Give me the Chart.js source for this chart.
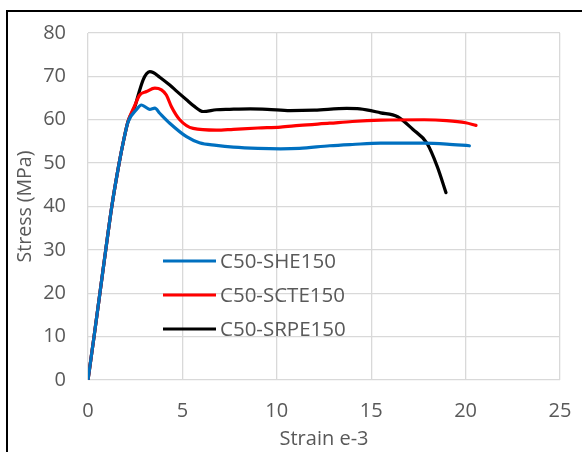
<!DOCTYPE html>
<html><head><meta charset="utf-8">
<script src="https://cdn.jsdelivr.net/npm/chart.js@4/dist/chart.umd.min.js"></script>
<style>
html,body{margin:0;padding:0;background:#fff;overflow:hidden}
#frame{position:absolute;left:6px;top:10px;width:600px;height:500px;border:2px solid #000;box-sizing:border-box}
#wrap{position:absolute;left:0;top:0;width:582px;height:452px}
</style></head>
<body>
<div id="frame"></div>
<div id="wrap"><canvas id="c" width="582" height="452"></canvas></div>
<script>
const seriesNames = ["C50-SHE150", "C50-SCTE150", "C50-SRPE150"];
const seriesColors = ["#0070C0", "#FF0000", "#000000"];
const sheX = [0,0.32,0.63,0.94,1.26,1.65,1.9,2.12,2.56,2.83,3.05,3.27,3.54,3.8,4.33,5.22,5.9,6.8,7.7,9.0,10.2,11.2,12.8,14.0,15.5,17.8,19.0,20.2];
const sheY = [0,10,20,30,40,50,55.5,59.5,62.3,63.4,62.9,62.4,62.7,61.5,59.2,56.1,54.7,54.1,53.7,53.4,53.3,53.4,54,54.3,54.6,54.6,54.4,54.0];
const scteX = [0,0.32,0.63,0.94,1.26,1.65,1.9,2.12,2.45,2.74,3.1,3.54,3.89,4.15,4.42,4.86,5.57,6.8,7.7,9.0,10.2,11.2,12.8,14.0,15.5,17.8,19.0,20.0,20.55];
const scteY = [0,10,20,30,40,50,55.5,59.6,63,65.7,66.5,67.3,66.9,65.7,63,60,58,57.6,57.8,58.1,58.3,58.7,59.2,59.6,59.9,60,59.8,59.3,58.7];
const srpeX = [0,0.32,0.63,0.94,1.26,1.65,1.9,2.12,2.48,2.7,2.92,3.1,3.27,3.45,3.8,4.33,4.69,5.22,5.6,6.1,6.8,7.5,8.6,9.5,10.7,12.0,13.7,14.4,15.5,16.4,17.2,17.95,18.5,18.96];
const srpeY = [0,10,20,30,40,50,55.5,59.6,63,66.3,69.2,70.6,71.1,70.9,69.8,68,66.6,64.6,63.2,61.9,62.3,62.4,62.5,62.4,62.1,62.2,62.6,62.5,61.6,60.7,57.8,54.6,49.2,43.2];
const xTicks = [0,5,10,15,20,25];
const yTicks = [0,10,20,30,40,50,60,70,80];

const toPts = (xs, ys) => xs.map((x, i) => ({x: x, y: ys[i]}));
const allX = [sheX, scteX, srpeX], allY = [sheY, scteY, srpeY];
const FONT = "'Open Sans', sans-serif";
const GREY = "#595959";

const legendPlugin = {
  id: 'inlegend',
  afterDraw(chart) {
    const ctx = chart.ctx;
    ctx.save();
    chart.data.datasets.forEach((ds, i) => {
      const y = 261 + i * 34;
      ctx.strokeStyle = ds.borderColor;
      ctx.lineWidth = 3.2;
      ctx.beginPath(); ctx.moveTo(163, y); ctx.lineTo(216, y); ctx.stroke();
      ctx.fillStyle = GREY;
      ctx.font = "20.5px " + FONT;
      ctx.textBaseline = 'middle';
      ctx.fillText(ds.label, 220, y + 1);
    });
    ctx.restore();
  }
};

new Chart(document.getElementById('c'), {
  type: 'scatter',
  data: {
    datasets: seriesNames.map((n, i) => ({
      label: n,
      data: toPts(allX[i], allY[i]),
      showLine: true,
      borderColor: seriesColors[i],
      backgroundColor: seriesColors[i],
      borderWidth: 3.2,
      pointRadius: 0,
      cubicInterpolationMode: 'monotone',
      borderCapStyle: 'round'
    }))
  },
  options: {
    responsive: false,
    animation: false,
    layout: {padding: {left: 0, right: 22, top: 33, bottom: 0}},
    plugins: {legend: {display: false}, tooltip: {enabled: false}},
    scales: {
      x: {
        type: 'linear', min: 0, max: 25,
        afterBuildTicks: s => { s.ticks = xTicks.map(v => ({value: v})); },
        afterFit: s => { s.height = 72; s.paddingRight = 0; s.paddingLeft = 0; },
        grid: {color: '#d9d9d9', lineWidth: 1.3, drawTicks: false},
        border: {display: false},
        ticks: {color: GREY, font: {family: FONT, size: 20}, padding: 19, maxRotation: 0},
        title: {display: true, text: 'Strain e-3', color: GREY, font: {family: FONT, size: 20}, padding: {top: 0, bottom: 1}}
      },
      y: {
        type: 'linear', min: 0, max: 80,
        afterBuildTicks: s => { s.ticks = yTicks.map(v => ({value: v})); },
        afterFit: s => { s.width = 88; s.paddingTop = 0; s.paddingBottom = 0; },
        grid: {color: '#d9d9d9', lineWidth: 1.3, drawTicks: false},
        border: {display: false},
        ticks: {color: GREY, font: {family: FONT, size: 20}, padding: 22},
        title: {display: true, text: 'Stress (MPa)', color: GREY, font: {family: FONT, size: 19.5}, padding: {top: 14, bottom: 0}}
      }
    }
  },
  plugins: [legendPlugin]
});
</script>
</body></html>
